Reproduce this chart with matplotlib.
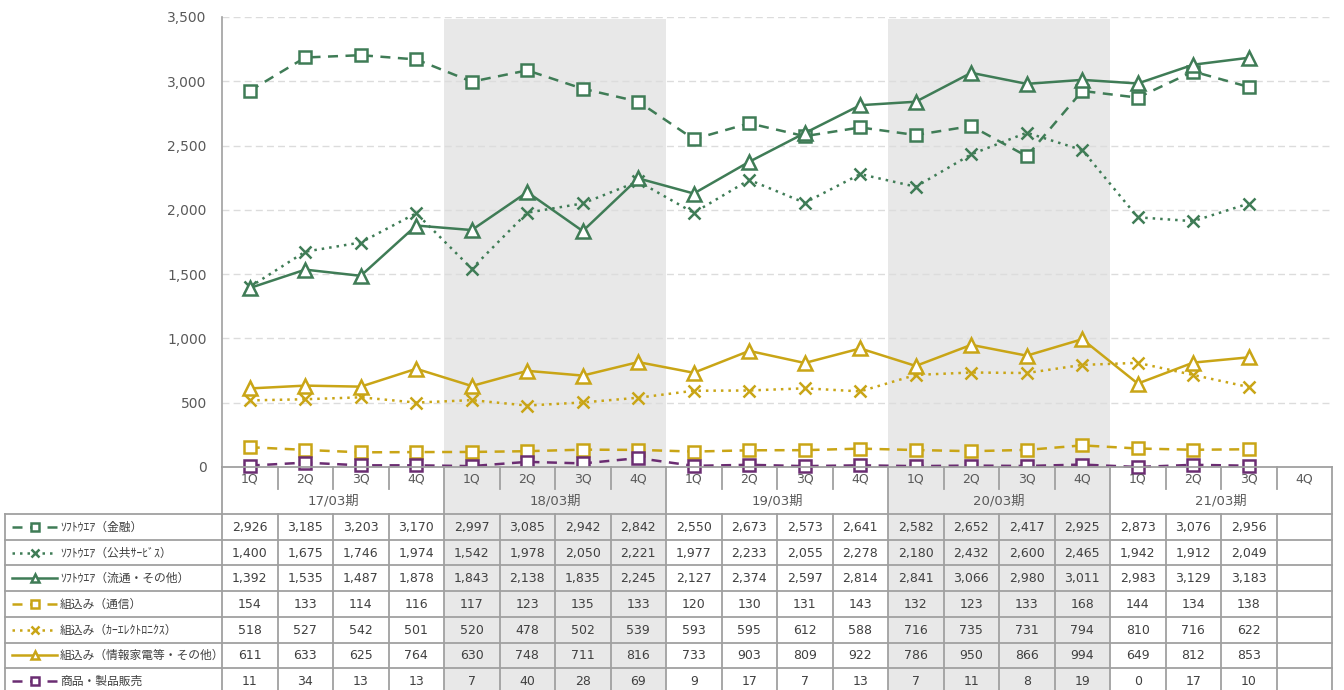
import numpy as np
import matplotlib
matplotlib.use("Agg")
import matplotlib.pyplot as plt

plt.rcParams['font.family'] = ['DejaVu Sans', 'Noto Sans CJK JP']

# ---------------- data ----------------
years = ['17/03期', '18/03期', '19/03期', '20/03期', '21/03期']
quarters = ['1Q', '2Q', '3Q', '4Q']
shaded_years = [1, 3]

series_names = ['ｿﾌﾄｳｴｱ（金融）', 'ｿﾌﾄｳｴｱ（公共ｻｰﾋﾞｽ）', 'ｿﾌﾄｳｴｱ（流通・その他）',
                '組込み（通信）', '組込み（ｶｰｴﾚｸﾄﾛﾆｸｽ）', '組込み（情報家電等・その他）',
                '商品・製品販売']

sw_fin = [2926, 3185, 3203, 3170, 2997, 3085, 2942, 2842, 2550, 2673, 2573, 2641,
          2582, 2652, 2417, 2925, 2873, 3076, 2956]
sw_pub = [1400, 1675, 1746, 1974, 1542, 1978, 2050, 2221, 1977, 2233, 2055, 2278,
          2180, 2432, 2600, 2465, 1942, 1912, 2049]
sw_dist = [1392, 1535, 1487, 1878, 1843, 2138, 1835, 2245, 2127, 2374, 2597, 2814,
           2841, 3066, 2980, 3011, 2983, 3129, 3183]
emb_tel = [154, 133, 114, 116, 117, 123, 135, 133, 120, 130, 131, 143,
           132, 123, 133, 168, 144, 134, 138]
emb_car = [518, 527, 542, 501, 520, 478, 502, 539, 593, 595, 612, 588,
           716, 735, 731, 794, 810, 716, 622]
emb_home = [611, 633, 625, 764, 630, 748, 711, 816, 733, 903, 809, 922,
            786, 950, 866, 994, 649, 812, 853]
products = [11, 34, 13, 13, 7, 40, 28, 69, 9, 17, 7, 13, 7, 11, 8, 19, 0, 17, 10]

all_series = [sw_fin, sw_pub, sw_dist, emb_tel, emb_car, emb_home, products]

GREEN = '#3f7c56'
YELLOW = '#c9a516'
PURPLE = '#6b2d72'
styles = [
    dict(color=GREEN, ls=(0, (4, 3)), marker='s'),
    dict(color=GREEN, ls=(0, (1, 2)), marker='x'),
    dict(color=GREEN, ls='-', marker='^'),
    dict(color=YELLOW, ls=(0, (4, 3)), marker='s'),
    dict(color=YELLOW, ls=(0, (1, 2)), marker='x'),
    dict(color=YELLOW, ls='-', marker='^'),
    dict(color=PURPLE, ls=(0, (4, 3)), marker='s'),
]

n_cols = len(years) * len(quarters)
W, H = 1344, 690
L, R, TOP, AX_BOT = 222, 1332, 17, 467
LEG_L = 5

fig = plt.figure(figsize=(W / 100, H / 100), dpi=100)
ax = fig.add_axes([L / W, (H - AX_BOT) / H, (R - L) / W, (AX_BOT - TOP) / H])
axt = fig.add_axes([L / W, 0, (R - L) / W, (H - AX_BOT) / H])

GRID = '#dcdcdc'
LINEC = '#a0a0a0'
TXT = '#595959'

# ---------------- chart ----------------
ax.set_xlim(-0.5, n_cols - 0.5)
ax.set_ylim(0, 3500)
ax.set_yticks(np.arange(0, 3501, 500))
ax.set_yticklabels([f'{v:,}' for v in np.arange(0, 3501, 500)], fontsize=10, color=TXT)
ax.tick_params(axis='y', length=0, pad=11)
ax.set_xticks([])
for s in ['top', 'right', 'bottom']:
    ax.spines[s].set_visible(False)
ax.spines['left'].set_color(LINEC)
ax.spines['left'].set_linewidth(1.2)
for v in np.arange(500, 3501, 500):
    ax.axhline(v, color=GRID, lw=1, ls=(0, (5, 3)), zorder=0)
for yi in shaded_years:
    ax.axvspan(yi * 4 - 0.5, yi * 4 + 3.5, ymax=0.995, color='#e8e8e8', zorder=-1, lw=0)

x = np.arange(len(sw_fin))
for vals, st in zip(all_series, styles):
    ms = 9 if st['marker'] == 's' else (10.5 if st['marker'] == '^' else 9)
    ax.plot(x, vals, color=st['color'], ls=st['ls'], lw=1.8, marker=st['marker'],
            ms=ms, mfc='white', mec=st['color'], mew=1.8, clip_on=False, zorder=3)

# ---------------- table ----------------
TH = H - AX_BOT  # 223
axt.set_xlim(-0.5, n_cols - 0.5)
axt.set_ylim(TH, 0)
axt.axis('off')
colw = (R - L) / n_cols


def px2col(px):
    return (px - L) / colw - 0.5


q_bot = 22
y_bot = 47
row_h = 25.7
n_rows = len(all_series)
rows_y = [y_bot + i * row_h for i in range(n_rows + 1)]
table_bottom = rows_y[-1]

for yi in shaded_years:
    axt.fill_between([yi * 4 - 0.5, yi * 4 + 3.5], 0, table_bottom, color='#e8e8e8', lw=0, zorder=0)

kw = dict(color=LINEC, lw=1.3, clip_on=False, zorder=2)
axt.plot([-0.5, n_cols - 0.5], [0, 0], **kw)
for c in range(n_cols + 1):
    xc = c - 0.5
    if c % 4 == 0:
        axt.plot([xc, xc], [0, table_bottom], **kw)
    else:
        axt.plot([xc, xc], [0, q_bot], **kw)
        axt.plot([xc, xc], [y_bot, table_bottom], **kw)
xl = px2col(LEG_L)
for yy in rows_y:
    axt.plot([xl, n_cols - 0.5], [yy, yy], **kw)
axt.plot([xl, xl], [y_bot, table_bottom], **kw)

for c in range(n_cols):
    axt.text(c, 11.5, quarters[c % 4], ha='center', va='center', fontsize=9, color=TXT)
for yi, yl in enumerate(years):
    axt.text(yi * 4 + 1.5, 34.5, yl, ha='center', va='center', fontsize=9.5, color=TXT)

for r, (vals, st, name) in enumerate(zip(all_series, styles, series_names)):
    yc = (rows_y[r] + rows_y[r + 1]) / 2
    for c, v in enumerate(vals):
        axt.text(c, yc + 0.5, f'{v:,}', ha='center', va='center', fontsize=9, color='#404040')
    axt.plot([px2col(12), px2col(57)], [yc, yc], color=st['color'], ls=st['ls'], lw=1.8,
             clip_on=False, zorder=3)
    axt.plot([px2col(34.5)], [yc], marker=st['marker'], ms=6, mfc='white',
             mec=st['color'], mew=1.8, color=st['color'], clip_on=False, zorder=4)
    axt.text(px2col(60), yc + 0.5, name, ha='left', va='center', fontsize=8.5, color='#404040',
             family=['Noto Sans CJK JP', 'DejaVu Sans'])

fig.savefig('out.png', dpi=100)
